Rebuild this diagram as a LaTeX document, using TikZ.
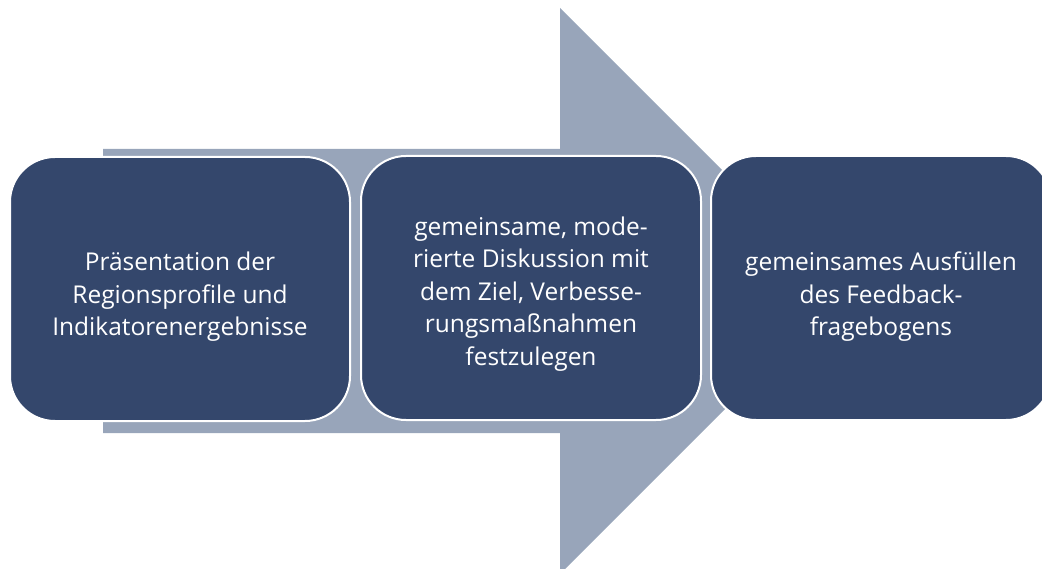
\documentclass[tikz,border=0pt]{standalone}
\usepackage{fontspec}
\setmainfont{Open Sans}
\definecolor{arrowgray}{HTML}{98A5BA}
\definecolor{boxblue}{HTML}{34476C}
\begin{document}
\begin{tikzpicture}[x=1pt,y=-1pt,
  stepbox/.style={draw=white,line width=2pt,fill=boxblue,rounded corners=45pt,
    minimum width=340pt,minimum height=264pt,inner sep=0pt},
  steptext/.style={text=white,align=center,
    font=\fontsize{24.5}{32.5}\selectfont,inner sep=0pt}]
\useasboundingbox (0,0) rectangle (1042,569);
\clip (0,0) rectangle (1042,569);
\fill[arrowgray] (103,149) -- (560,149) -- (560,8) -- (843,291) -- (560,574) -- (560,433) -- (103,433) -- cycle;
\node[stepbox] (b1) at (180,289) {};
\node[stepbox] (b2) at (531,288) {};
\node[stepbox] (b3) at (881,288) {};
\node[steptext] (t1) at ([yshift=-8pt]b1.center) {Präsentation der\\Regionsprofile und\\Indikatorenergebnisse};
\node[steptext] (t2) at ([yshift=-6pt]b2.center) {gemeinsame, mode-\\rierte Diskussion mit\\dem Ziel, Verbesse-\\rungsmaßnahmen\\festzulegen};
\node[steptext] (t3) at ([yshift=-9pt]b3.center) {gemeinsames Ausfüllen\\des Feedback-\\fragebogens};
\end{tikzpicture}
\end{document}
